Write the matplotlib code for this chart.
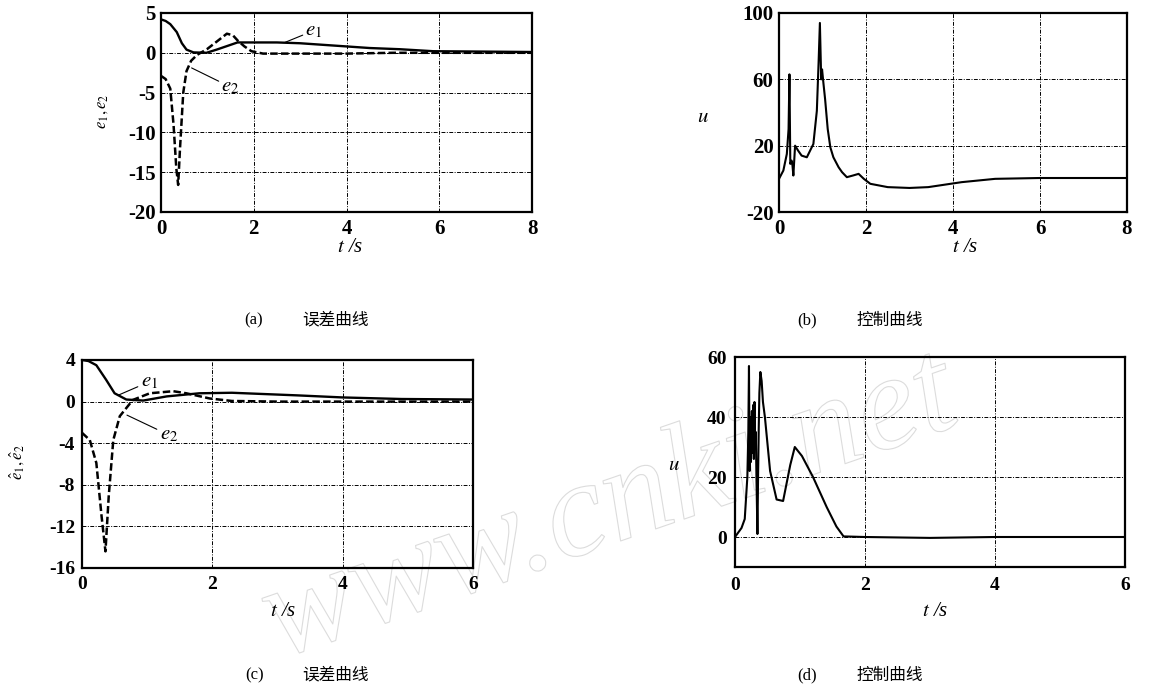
import matplotlib
matplotlib.use('Agg')
import matplotlib.pyplot as plt
import matplotlib.patheffects as pe

plt.rcParams['font.family'] = ['Liberation Serif', 'Noto Sans CJK SC']
plt.rcParams['mathtext.fontset'] = 'stix'

# (a) error curves, first case
t_a1 = [0, 0.1, 0.2, 0.34, 0.45, 0.55, 0.7, 0.98, 1.2, 1.45, 1.65, 2.0, 2.5, 3.0, 3.5, 4.0, 4.5, 5.15, 5.87, 7.0, 8.0]
e1_a = [4.2, 4.0, 3.6, 2.6, 1.2, 0.4, 0.05, 0.0, 0.4, 0.9, 1.3, 1.3, 1.3, 1.2, 1.0, 0.8, 0.6, 0.45, 0.2, 0.15, 0.1]
t_a2 = [0, 0.1, 0.2, 0.27, 0.33, 0.37, 0.41, 0.45, 0.48, 0.55, 0.65, 0.78, 0.99, 1.2, 1.42, 1.55, 1.66, 1.8, 1.95, 2.2, 3, 4, 5, 6, 7, 8]
e2_a = [-2.9, -3.3, -4.5, -9, -14.5, -16.6, -12, -8, -5, -2.3, -1.0, -0.25, 0.45, 1.4, 2.4, 2.2, 1.5, 0.8, 0.2, -0.1, -0.1, -0.1, 0, 0, 0, 0]

# (b) control input, first case
t_b = [0, 0.1, 0.18, 0.22, 0.24, 0.26, 0.29, 0.31, 0.33, 0.37, 0.44, 0.52, 0.64, 0.79, 0.87, 0.91, 0.94, 0.97,
       0.99, 1.02, 1.06, 1.12, 1.18, 1.25, 1.37, 1.45, 1.56, 1.7, 1.83, 1.95, 2.1, 2.5, 3.0, 3.43, 4.2, 4.97, 6, 8]
u_b = [0, 5, 15, 30, 63, 9, 11, 8, 2, 20, 17, 14, 13, 21, 41, 70, 94, 60,
       66, 58, 48, 30, 19, 13, 7, 4, 1, 2, 3, 0, -3, -5, -5.5, -5, -2, 0, 0.5, 0.5]

# (c) error curves, second case
t_c1 = [0, 0.1, 0.22, 0.37, 0.5, 0.68, 0.94, 1.3, 1.8, 2.3, 3.3, 4.0, 4.9, 6]
e1_c = [4, 3.9, 3.5, 2.1, 0.8, 0.2, 0.1, 0.5, 0.8, 0.85, 0.6, 0.4, 0.25, 0.2]
t_c2 = [0, 0.12, 0.22, 0.3, 0.36, 0.41, 0.48, 0.58, 0.78, 1.04, 1.4, 1.6, 1.96, 2.3, 3, 4, 5, 6]
e2_c = [-3, -3.7, -5.9, -11, -14.4, -9.1, -3.7, -1.4, 0.16, 0.8, 1.0, 0.8, 0.3, 0.06, 0, 0, 0, 0]

# (d) control input, second case
t_d = [0, 0.1, 0.15, 0.19, 0.205, 0.215, 0.225, 0.235, 0.245, 0.26, 0.27, 0.28, 0.29, 0.30, 0.31, 0.32, 0.33,
       0.345, 0.355, 0.365, 0.375, 0.39, 0.41, 0.43, 0.46, 0.54, 0.64, 0.74, 0.85, 0.92, 1.03, 1.2, 1.41, 1.56,
       1.67, 2, 3, 4, 5, 6]
u_d = [0, 3, 6, 20, 35, 57, 22, 40, 25, 42, 28, 44, 26, 45, 30, 35, 20,
       1, 20, 36, 48, 55, 52, 45, 40, 22, 12.5, 12, 24, 30, 27, 20, 10, 3.5,
       0.2, 0, -0.3, 0, 0, 0]

W, H = 1161, 696
fig = plt.figure(figsize=(W / 100, H / 100), dpi=100)


def rect(l, t, r, b):
    return [l / W, 1 - b / H, (r - l) / W, (b - t) / H]


def px(x, y):
    return x / W, 1 - y / H


GRID = (0, (4, 1.5, 1, 1.5))


def style(ax, xlim, ylim, xt, yt, grid_y, fs, pad):
    ax.set_xlim(xlim)
    ax.set_ylim(ylim)
    ax.set_xticks(xt, labels=[str(v) for v in xt], fontweight='bold', fontsize=fs)
    ax.set_yticks(yt, labels=[str(v) for v in yt], fontweight='bold', fontsize=fs)
    ax.tick_params(length=0, pad=pad)
    ax.tick_params(axis='x', pad=pad + 1)
    for s in ax.spines.values():
        s.set_linewidth(1.6)
    for v in xt[1:-1]:
        ax.axvline(v, color='k', lw=0.7, ls=GRID, zorder=1)
    for v in grid_y:
        ax.axhline(v, color='k', lw=0.7, ls=GRID, zorder=1)
    ax.set_facecolor('none')


ax_a = fig.add_axes(rect(161, 13, 532, 212))
ax_b = fig.add_axes(rect(779, 13, 1127, 212))
ax_c = fig.add_axes(rect(82, 360, 473, 568))
ax_d = fig.add_axes(rect(735, 357, 1125, 567))

style(ax_a, (0, 8), (-20, 5), [0, 2, 4, 6, 8], [-20, -15, -10, -5, 0, 5], [-15, -10, -5, 0], 15, 4)
style(ax_b, (0, 8), (-20, 100), [0, 2, 4, 6, 8], [-20, 20, 60, 100], [20, 60], 15, 4)
style(ax_c, (0, 6), (-16, 4), [0, 2, 4, 6], [-16, -12, -8, -4, 0, 4], [-12, -8, -4, 0], 14, 5)
style(ax_d, (0, 6), (-10, 60), [0, 2, 4, 6], [0, 20, 40, 60], [0, 20, 40], 14, 6)

ax_a.plot(t_a1, e1_a, color='k', lw=1.7, zorder=3)
ax_a.plot(t_a2, e2_a, color='k', lw=1.8, ls=(0, (3, 1.3)), zorder=3)
ax_b.plot(t_b, u_b, color='k', lw=1.5, zorder=3)
ax_c.plot(t_c1, e1_c, color='k', lw=1.7, zorder=3)
ax_c.plot(t_c2, e2_c, color='k', lw=1.8, ls=(0, (3, 1.3)), zorder=3)
ax_d.plot(t_d, u_d, color='k', lw=1.5, zorder=3)

lead = dict(arrowstyle='-', lw=0.8, color='k', shrinkA=0, shrinkB=0)
ax_a.annotate(r'$e_1$', xy=(2.67, 1.3), xytext=(3.3, 2.8), fontsize=15, ha='center', va='center', arrowprops=lead)
ax_a.annotate(r'$e_2$', xy=(0.66, -1.9), xytext=(1.5, -4.3), fontsize=15, ha='center', va='center', arrowprops=lead)
ax_c.annotate(r'$e_1$', xy=(0.55, 0.6), xytext=(1.03, 1.9), fontsize=15, ha='center', va='center', arrowprops=lead)
ax_c.annotate(r'$e_2$', xy=(0.69, -1.3), xytext=(1.33, -3.2), fontsize=15, ha='center', va='center', arrowprops=lead)

for ax, (x, y) in [(ax_a, (350, 248)), (ax_b, (965, 248)), (ax_c, (283, 612)), (ax_d, (935, 612))]:
    fig.text(*px(x, y), r'$t$ /s', fontsize=15, ha='center', va='center', style='italic')

fig.text(*px(102, 111), r'$e_1, e_2$', fontsize=12, rotation=90, ha='center', va='center')
fig.text(*px(703, 118), r'$u$', fontsize=15, ha='center', va='center')
fig.text(*px(17, 462), r'$\hat{e}_1, \hat{e}_2$', fontsize=12, rotation=90, ha='center', va='center')
fig.text(*px(674, 466), r'$u$', fontsize=15, ha='center', va='center')

captions = [((254, 320), '(a)', (335, 320), '误差曲线'),
            ((807, 320), '(b)', (890, 320), '控制曲线'),
            ((255, 675), '(c)', (335, 675), '误差曲线'),
            ((807, 675), '(d)', (890, 675), '控制曲线')]
for p1, s1, p2, s2 in captions:
    fig.text(*px(*p1), s1, fontsize=12, ha='center', va='center')
    fig.text(*px(*p2), s2, fontsize=12, ha='center', va='center', family='Noto Sans CJK SC')

# faint watermark outline
fig.text(*px(610, 510), 'www.cnki.net', fontsize=98, rotation=19, ha='center', va='center',
         style='italic', color=(1, 1, 1, 0), zorder=-5,
         path_effects=[pe.Stroke(linewidth=0.8, foreground='#dcdcdc')])

fig.savefig('out.png', dpi=100, facecolor='white')
